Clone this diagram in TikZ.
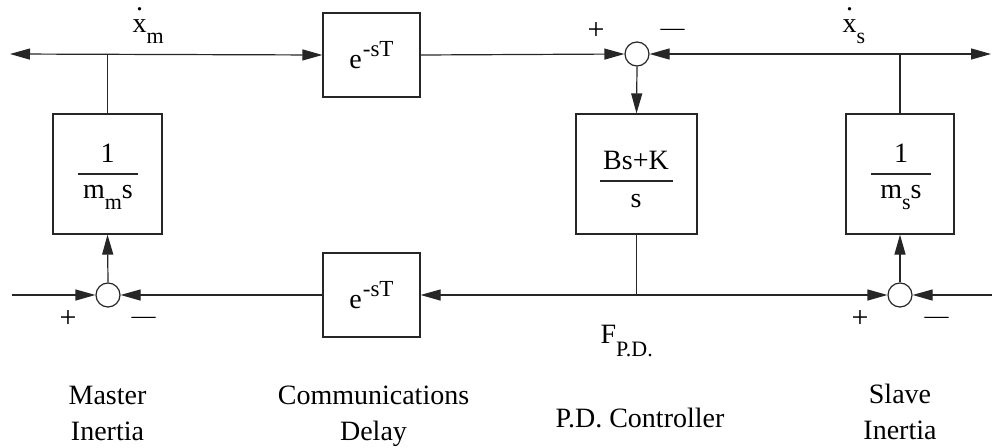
\documentclass[tikz,border=0pt]{standalone}
\usepackage{fontspec}
\setmainfont{Liberation Serif}
\usetikzlibrary{arrows.meta}
\newcommand\bigf{\fontsize{28}{36}\selectfont}
\newcommand\smf{\fontsize{22}{22}\selectfont}
\newcommand\supf{\fontsize{23}{23}\selectfont}
\newcommand\plusf{\fontsize{30}{30}\selectfont}
\newcommand\sgnf{\fontsize{24}{24}\selectfont}
\newcommand\mysub[2][11pt]{\raisebox{-#1}{\smf #2}}
\newcommand\mysup[1]{\kern1pt\raisebox{12pt}{\supf #1}}
\newcommand\xdot{\ooalign{x\cr\hidewidth\raisebox{22pt}{.}\hidewidth\cr}}
\begin{document}
\begin{tikzpicture}[x=1pt,y=-1pt,
  line width=1.2pt, draw=black!85,
  every node/.style={font=\bigf, inner sep=0pt},
  blk/.style={draw, line width=1.2pt},
  sumj/.style={draw, circle, fill=white, minimum size=24pt, line width=1.2pt},
  flow/.style={-{Triangle[length=20pt,width=11pt]}},
  bflow/.style={{Triangle[length=20pt,width=11pt]}-{Triangle[length=20pt,width=11pt]}},
  sgn/.style={font=\sgnf, anchor=base},
  pls/.style={font=\plusf, anchor=base},
  fbar/.style={line width=1.5pt}]
\useasboundingbox (0,0) rectangle (992,447);

% blocks
\node[blk, minimum width=97pt, minimum height=84pt] (dtop) at (371.5,55) {e\mysup{-sT}};
\node[blk, minimum width=97pt, minimum height=84pt] (dbot) at (371.5,295) {e\mysup{-sT}};
\node[blk, minimum width=109pt, minimum height=120pt] (mm) at (107.5,174) {};
\node[blk, minimum width=121pt, minimum height=120pt] (pd) at (636.5,174) {};
\node[blk, minimum width=108pt, minimum height=120pt] (ms) at (900,174) {};

% fractions inside blocks
\node[anchor=base] (mmnum) at (107.5,162) {1};
\draw[fbar] (78,174) -- (138,174);
\node[anchor=base] (mmden) at (108,198) {m\mysub{m}s};
\node[anchor=base] (pdnum) at (636,169) {Bs+K};
\draw[fbar] (600,181) -- (673,181);
\node[anchor=base] (pdden) at (636,207) {s};
\node[anchor=base] (msnum) at (901,162) {1};
\draw[fbar] (871,174) -- (931,174);
\node[anchor=base] (msden) at (901,198) {m\mysub{s}s};

% summing junctions
\node[sumj] (sTR) at (637,54) {};
\node[sumj] (sL) at (108,295) {};
\node[sumj] (sR) at (900,295) {};

% free ends
\coordinate (lend) at (10,54);
\coordinate (rend) at (991,54);
\coordinate (lin) at (12,295);
\coordinate (rin) at (992,295);
\coordinate (fpd) at (pd.south |- sR);

% connectors
\draw[bflow] (lend) -- (dtop.west);
\draw (mm.north) -- (mm.north |- lend);
\draw[flow] (dtop.east) -- (sTR.west);
\draw[bflow] (sTR.east) -- (rend);
\draw (ms.north) -- (ms.north |- rend);
\draw[flow] (sTR.south) -- (pd.north);
\draw (pd.south) -- (fpd);
\draw[flow] (fpd) -- (sR.west);
\draw[flow] (fpd) -- (dbot.east);
\draw[flow] (rin) -- (sR.east);
\draw[flow] (dbot.west) -- (sL.east);
\draw[flow] (lin) -- (sL.west);
\draw[flow] (sL.north) -- (mm.south);
\draw[flow] (sR.north) -- (ms.south);

% signal labels
\node[anchor=base west] (xm) at (132,32) {\xdot\mysub{m}};
\node[anchor=base west] (xs) at (842,32) {\xdot\mysub{s}};
\node[anchor=base west] (fl) at (600,343) {F\mysub[13pt]{P.D.}};

% signs
\node[pls] (p1) at (596,39) {+};
\node[sgn] (m1) at (672.5,35) {—};
\node[pls] (p2) at (68,327) {+};
\node[sgn] (m2) at (143.5,323) {—};
\node[pls] (p3) at (860,327) {+};
\node[sgn] (m3) at (936.5,323) {—};

% captions
\node[align=center, anchor=base] (c1) at (107.5,440) {Master\\Inertia};
\node[align=center, anchor=base] (c2) at (373.5,440) {Communications\\Delay};
\node[anchor=base] (c3) at (640,427) {P.D. Controller};
\node[align=center, anchor=base] (c4) at (900,439) {Slave\\Inertia};
\end{tikzpicture}
\end{document}
